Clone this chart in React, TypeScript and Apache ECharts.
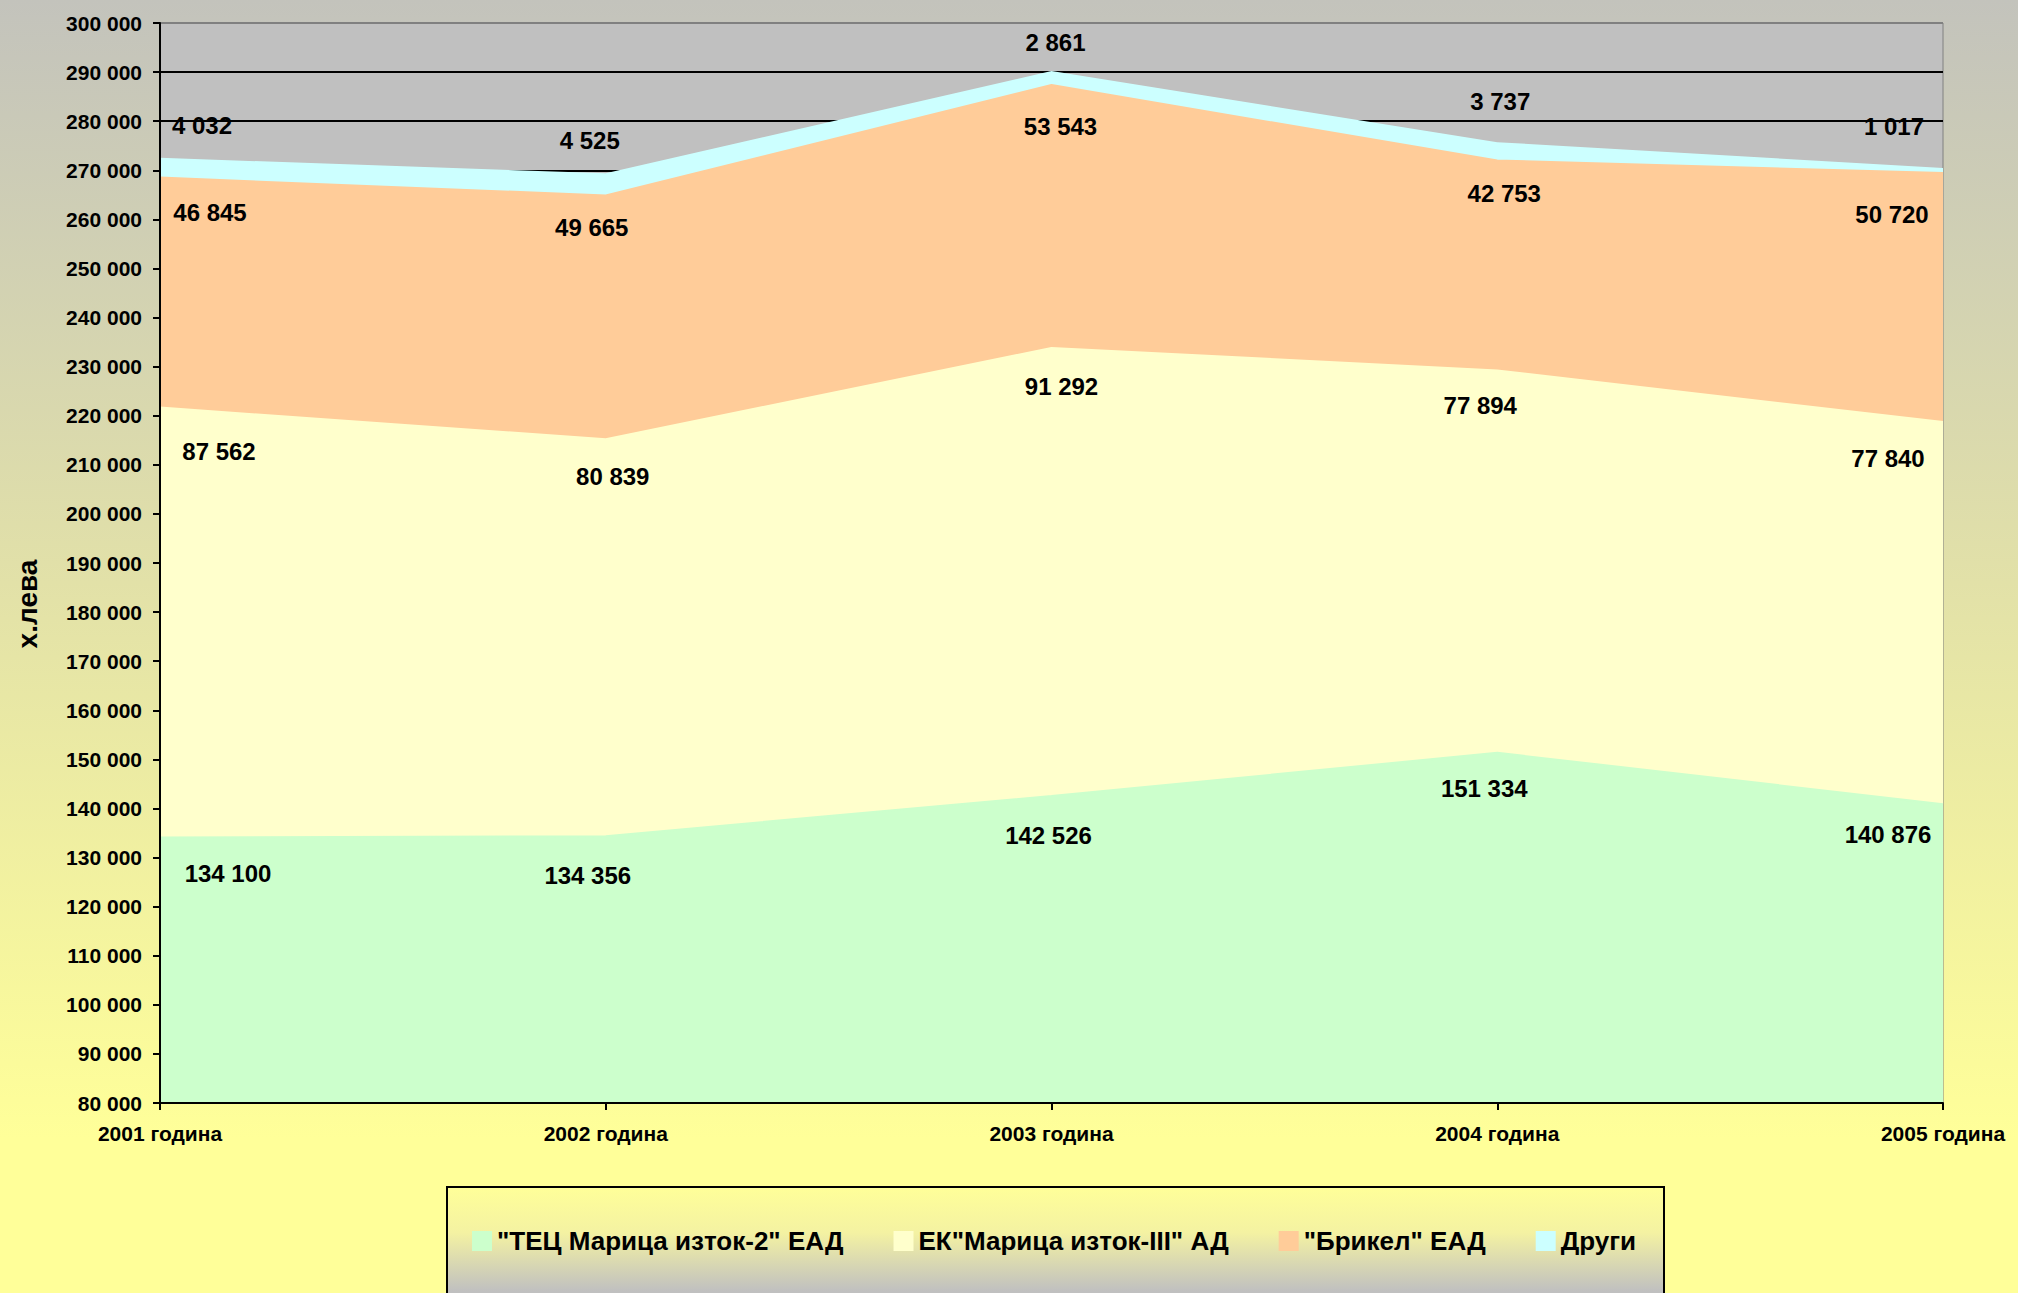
import React, { useEffect, useRef } from "react";
import * as echarts from "echarts";

// ---- data ----
const categories = ["2001 година", "2002 година", "2003 година", "2004 година", "2005 година"];
const tecValues = [134100, 134356, 142526, 151334, 140876];
const ekValues = [87562, 80839, 91292, 77894, 77840];
const brikelValues = [46845, 49665, 53543, 42753, 50720];
const otherValues = [4032, 4525, 2861, 3737, 1017];
const seriesNames = [
  '"ТЕЦ Марица изток-2" ЕАД',
  'ЕК"Марица изток-III" АД',
  '"Брикел" ЕАД',
  "Други",
];
const yAxisTitle = "х.лева";
const yMin = 80000;
const yMax = 300000;
const yStep = 10000;

// ---- styles ----
const FONT = '"Liberation Sans", Arial, sans-serif';
const colors = ["#CCFFCC", "#FFFFCC", "#FFCC99", "#CCFFFF"];
// label offsets (px) relative to each point, per series
const labelDX = [
  [68, -18, -3, -13, -55],
  [59, 7, 10, -17, -55],
  [50, -14, 9, 7, -51],
  [42, -16, 4, 3, -49],
];
const labelDY = [
  [36, 39, 39, 36, 30],
  [44, 37, 39, 35, 36],
  [35, 32, 41, 33, 41],
  [-32, -33, -29, -41, -42],
];

const fmt = (v: number) => String(v).replace(/\B(?=(\d{3})+(?!\d))/g, " ");

export default function App() {
  const ref = useRef<HTMLDivElement>(null);
  useEffect(() => {
    if (!ref.current) return;
    const chart = echarts.init(ref.current, undefined, { renderer: "svg" });
    const allValues = [tecValues, ekValues, brikelValues, otherValues];
    const nLines = Math.round((yMax - yMin) / yStep) + 1;
    const splitColors = Array.from({ length: nLines }, (_, i) => (i === nLines - 1 ? "#808080" : "#000000"));
    const series = allValues.map((vals, si) => ({
      name: seriesNames[si],
      type: "line",
      stack: "total",
      yAxisIndex: 0,
      data: vals.map((v, i) => ({
        value: v,
        label: { offset: [labelDX[si][i], labelDY[si][i]] },
      })),
      symbol: "circle",
      symbolSize: 0,
      showSymbol: true,
      showAllSymbol: true,
      lineStyle: { width: si === allValues.length - 1 ? 0 : 2, color: colors[si] },
      itemStyle: { color: colors[si] },
      areaStyle: { color: colors[si], opacity: 1 },
      label: {
        show: true,
        position: "inside",
        align: "center",
        verticalAlign: "middle",
        formatter: (p: any) => fmt(p.value),
        color: "#000",
        fontSize: 24,
        fontWeight: "bold",
        fontFamily: FONT,
      },
      emphasis: { disabled: true },
      z: 2,
    }));
    chart.setOption({
      animation: false,
      backgroundColor: "transparent",
      textStyle: { fontFamily: FONT },
      grid: {
        left: 160,
        right: 75,
        top: 23,
        bottom: 190,
        show: true,
        backgroundColor: "#C0C0C0",
        borderColor: "#808080",
        borderWidth: 1,
      },
      legend: {
        left: 472,
        top: 1228,
        padding: 0,
        itemWidth: 20,
        itemHeight: 20,
        itemGap: 50,
        icon: "rect",
        z: 10,
        data: seriesNames.map((n, i) => ({ name: n, itemStyle: { color: colors[i], opacity: 1 } })),
        textStyle: { fontSize: 26, fontWeight: "bold", color: "#000", fontFamily: FONT },
        selectedMode: false,
      },
      xAxis: {
        type: "category",
        boundaryGap: false,
        data: categories,
        axisLine: { lineStyle: { color: "#000", width: 2 } },
        axisTick: { show: true, length: 7, lineStyle: { color: "#000", width: 2 } },
        axisLabel: {
          interval: 0,
          margin: 20,
          fontSize: 21,
          fontWeight: "bold",
          color: "#000",
          fontFamily: FONT,
        },
        z: 5,
      },
      yAxis: [
        {
          type: "value",
          min: yMin,
          max: yMax,
          interval: yStep,
          axisLine: { show: false },
          axisTick: { show: false },
          axisLabel: { show: false },
          splitLine: { show: true, lineStyle: { color: splitColors, width: 2 } },
          z: 0,
        },
        {
          type: "value",
          position: "left",
          min: yMin,
          max: yMax,
          interval: yStep,
          axisLine: { show: true, lineStyle: { color: "#000", width: 2 } },
          axisTick: { show: true, length: 7, lineStyle: { color: "#000", width: 2 } },
          splitLine: { show: false },
          axisLabel: {
            margin: 18,
            fontSize: 21,
            fontWeight: "bold",
            color: "#000",
            fontFamily: FONT,
            formatter: (v: number) => fmt(v),
          },
          z: 5,
        },
      ],
      graphic: [
        {
          type: "rect",
          z: 0,
          shape: { x: 447, y: 1187, width: 1217, height: 130 },
          style: {
            fill: new echarts.graphic.LinearGradient(0, 0, 0, 1, [
              { offset: 0, color: "#FFFF99" },
              { offset: 0.35, color: "#F4F2A2" },
              { offset: 0.8, color: "#C0C0C0" },
              { offset: 1, color: "#C0C0C0" },
            ]),
            stroke: "#000",
            lineWidth: 2,
          },
        },
        {
          type: "text",
          z: 10,
          x: 27,
          y: 604,
          rotation: Math.PI / 2,
          style: {
            text: yAxisTitle,
            fontSize: 28,
            fontWeight: "bold",
            fontFamily: FONT,
            fill: "#000",
            align: "center",
            verticalAlign: "middle",
          },
        },
      ],
      series,
    });
    return () => chart.dispose();
  }, []);
  return (
    <div
      ref={ref}
      style={{
        position: "absolute",
        left: 0,
        top: 0,
        width: 2018,
        height: 1293,
        background: "linear-gradient(to bottom, #C3C3BC 0%, #E2E1A8 45%, #FFFF99 88%, #FFFF99 100%)",
      }}
    />
  );
}
